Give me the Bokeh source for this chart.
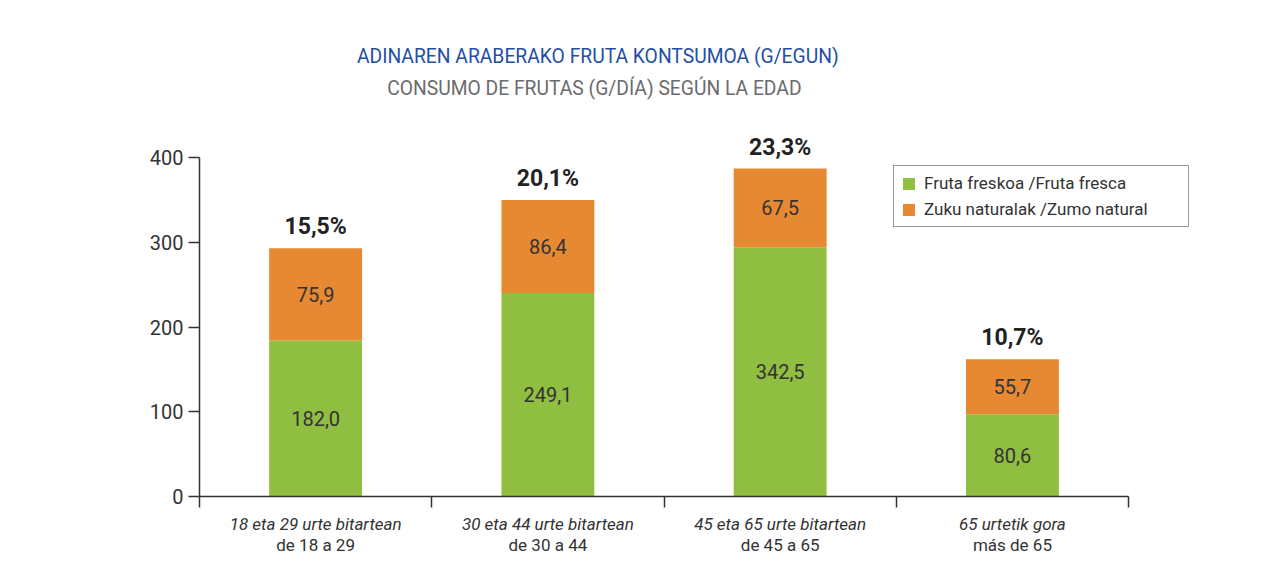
from bokeh.plotting import figure
from bokeh.models import (ColumnDataSource, Range1d, LinearAxis, FixedTicker,
                          LabelSet, Label, Legend, LegendItem)
from bokeh.core.properties import value
from bokeh.embed import file_html
from bokeh.resources import INLINE

# ---- data ----
groups_eu = ["18 eta 29 urte bitartean", "30 eta 44 urte bitartean",
             "45 eta 65 urte bitartean", "65 urtetik gora"]
groups_es = ["de 18 a 29", "de 30 a 44", "de 45 a 65", "más de 65"]
fresh_drawn = [184, 240, 294, 97]      # bar heights as drawn (g/day)
juice_drawn = [109, 110, 93, 65]
fresh_text = ["182,0", "249,1", "342,5", "80,6"]
juice_text = ["75,9", "86,4", "67,5", "55,7"]
share_text = ["15,5%", "20,1%", "23,3%", "10,7%"]
y_ticks = [0, 100, 200, 300, 400]
legend_fresh = "Fruta freskoa /Fruta fresca"
legend_juice = "Zuku naturalak /Zumo natural"
title_eu = "ADINAREN ARABERAKO FRUTA KONTSUMOA (G/EGUN)"
title_es = "CONSUMO DE FRUTAS (G/DÍA) SEGÚN LA EDAD"

GREEN = "#8fbe40"
ORANGE = "#e78832"
DARK = "#333333"
FONT = "Roboto"

idx = list(range(len(groups_eu)))
total = [f + j for f, j in zip(fresh_drawn, juice_drawn)]
src = ColumnDataSource(dict(
    x=idx, fresh=fresh_drawn, juice=juice_drawn, total=total,
    fresh_mid=[f / 2 for f in fresh_drawn],
    juice_mid=[f + j / 2 for f, j in zip(fresh_drawn, juice_drawn)],
    fresh_text=fresh_text, juice_text=juice_text, share_text=share_text,
))

p = figure(width=1260, height=563, output_backend="svg", toolbar_location=None,
           x_range=Range1d(-0.5, 3.982), y_range=Range1d(0, 561.7),
           x_axis_type=None, y_axis_type=None,
           min_border_left=199, min_border_right=20,
           min_border_top=20, min_border_bottom=67)
p.title = None
p.outline_line_color = None
p.xgrid.visible = False
p.ygrid.visible = False
p.background_fill_color = "white"
p.border_fill_color = "white"

rs = p.vbar_stack(["fresh", "juice"], x="x", width=0.40, source=src,
                  color=[GREEN, ORANGE], line_color=None)

# y axis
yax = LinearAxis(ticker=FixedTicker(ticks=y_ticks), bounds=(0, 400))
yax.axis_line_color = DARK
yax.axis_line_width = 1.5
yax.major_tick_line_color = DARK
yax.major_tick_line_width = 1.5
yax.major_tick_in = 0
yax.major_tick_out = 11
yax.minor_tick_line_color = None
yax.major_label_standoff = 5
yax.major_label_text_font = FONT
yax.major_label_text_font_size = "20px"
yax.major_label_text_color = DARK
p.add_layout(yax, "left")

# x axis: labels at group centres (Basque, italic), separator ticks as minor ticks
xax = LinearAxis(ticker=FixedTicker(ticks=idx,
                                    minor_ticks=[i - 0.5 for i in range(len(idx) + 1)]),
                 bounds=(-0.5, len(idx) - 0.5),
                 major_label_overrides={i: t for i, t in zip(idx, groups_eu)})
xax.axis_line_color = DARK
xax.axis_line_width = 1.5
xax.major_tick_line_color = None
xax.major_tick_in = 0
xax.major_tick_out = 0
xax.minor_tick_line_color = DARK
xax.minor_tick_line_width = 1.5
xax.minor_tick_in = 0
xax.minor_tick_out = 11
xax.major_label_standoff = 6
xax.major_label_text_font = FONT
xax.major_label_text_font_size = "17px"
xax.major_label_text_font_style = "italic"
xax.major_label_text_color = DARK
p.add_layout(xax, "below")

# second line of category labels (Spanish)
ax2 = LinearAxis(ticker=FixedTicker(ticks=idx),
                 major_label_overrides={i: t for i, t in zip(idx, groups_es)})
ax2.axis_line_color = None
ax2.major_tick_line_color = None
ax2.minor_tick_line_color = None
ax2.major_tick_in = 0
ax2.major_tick_out = 0
ax2.major_label_standoff = -2
ax2.major_label_text_font = FONT
ax2.major_label_text_font_size = "17px"
ax2.major_label_text_color = DARK
p.add_layout(ax2, "below")

# value labels
for col, ycol in (("fresh_text", "fresh_mid"), ("juice_text", "juice_mid")):
    p.add_layout(LabelSet(x="x", y=ycol, text=col, source=src,
                          text_align="center", text_baseline="middle",
                          text_font=value(FONT), text_font_size=value("20px"),
                          text_color=DARK))
p.add_layout(LabelSet(x="x", y="total", text="share_text", source=src,
                      text_align="center", text_baseline="alphabetic", y_offset=14,
                      text_font=value(FONT), text_font_size=value("23px"),
                      text_font_style="bold", text_color="#222222"))

# titles
p.add_layout(Label(x=1.215, y=519, text=title_eu, text_align="center",
                   text_baseline="middle", text_font=FONT,
                   text_font_size="19.3px", text_color="#1f4fa6"))
p.add_layout(Label(x=1.20, y=481, text=title_es, text_align="center",
                   text_baseline="middle", text_font=FONT,
                   text_font_size="19.3px", text_color="#6b6b6b"))

legend = Legend(items=[LegendItem(label=legend_fresh, renderers=[rs[0]]),
                       LegendItem(label=legend_juice, renderers=[rs[1]])],
                location=(694, 269), orientation="vertical")
legend.border_line_color = DARK
legend.border_line_width = 1
legend.background_fill_color = "white"
legend.background_fill_alpha = 1
legend.glyph_width = 15
legend.glyph_height = 15
legend.label_standoff = 8
legend.label_height = 20
legend.label_width = 257
legend.spacing = 6
legend.padding = 7
legend.margin = 0
legend.label_text_font = FONT
legend.label_text_font_size = "17px"
legend.label_text_color = DARK
p.add_layout(legend, "center")

open("out.html", "w").write(file_html(p, INLINE))
